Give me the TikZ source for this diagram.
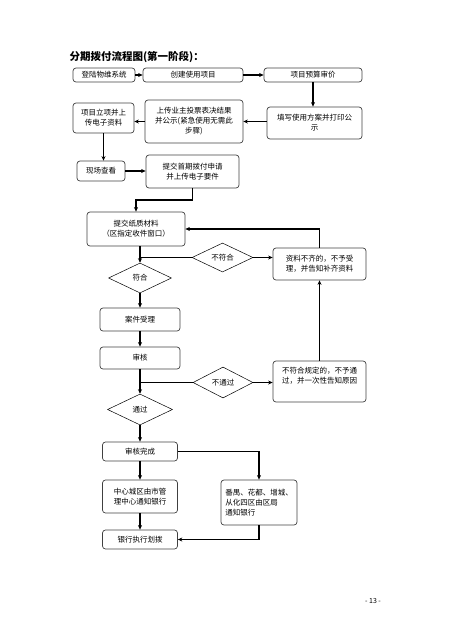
\documentclass[tikz,border=0pt]{standalone}
\usepackage{fontspec}
\newfontfamily\cjk{Noto Sans CJK SC}
\usepackage{tikz}
\usetikzlibrary{arrows.meta,positioning,calc,shapes.geometric}

\begin{document}
\begin{tikzpicture}[>={Stealth[length=4.5pt,width=4pt]},x=1pt,y=-1pt,
  font=\cjk\fontsize{7.5}{10}\selectfont,
  box/.style={draw=black!75,line width=0.7pt,rounded corners=3pt,align=center,inner sep=1pt},
  dia/.style={draw,line width=0.5pt,diamond,aspect=2,inner sep=0pt},
  link/.style={line width=1.6pt},
  flow/.style={link,->}]
\useasboundingbox (0,0) rectangle (452,640);
\node[anchor=west,font=\cjk\bfseries\fontsize{10.5}{12}\selectfont] (title) at (66,57) {分期拨付流程图(第一阶段)：};
%% top rows
\node[box,minimum width=62,minimum height=14] (login) at (104,75) {登陆物维系统};
\node[box,minimum width=100,minimum height=14] (create) at (193,75) {创建使用项目};
\node[box,minimum width=98,minimum height=14] (budget) at (313,75) {项目预算审价};
\node[box,minimum width=95,minimum height=32] (fill) at (314.5,123) {填写使用方案并打印公\\示};
\node[box,minimum width=98,minimum height=43] (upload) at (194,121.5) {上传业主投票表决结果\\并公示(紧急使用无需此\\步骤)};
\node[box,minimum width=61,minimum height=30] (setup) at (103.5,118) {项目立项并上\\传电子资料};
\node[box,minimum width=48,minimum height=20] (site) at (101,171) {现场查看};
\node[box,minimum width=93,minimum height=33] (apply) at (192.5,171.5) {提交首期拨付申请\\并上传电子要件};
%% paper check
\node[box,minimum width=98,minimum height=34] (paper) at (136,229) {提交纸质材料\\（区指定收件窗口）};
\node[box,minimum width=93,minimum height=32] (lack) at (319.5,264) {资料不齐的，不予受\\理，并告知补齐资料};
\node[dia,minimum width=61,minimum height=29] (dnot) at (222.5,257.5) {不符合};
\node[dia,minimum width=63,minimum height=30] (dok) at (140,278) {符合};
\node[box,minimum width=80,minimum height=23] (accept) at (140,319.5) {案件受理};
\node[box,minimum width=80,minimum height=22] (review) at (140,358) {审核};
\node[dia,minimum width=60,minimum height=31] (dfail) at (223,382.5) {不通过};
\node[box,minimum width=93,minimum height=41] (reject) at (319.5,381.5) {不符合规定的，不予通\\过，并一次性告知原因\\[2pt]};
\node[dia,minimum width=65,minimum height=31] (dpass) at (140,409.5) {通过};
%% bank notice
\node[box,minimum width=75,minimum height=19] (done) at (140,451.5) {审核完成};
\node[box,minimum width=75,minimum height=33] (center) at (140,496.5) {中心城区由市管\\理中心通知银行};
\node[box,align=left,minimum width=76,minimum height=45] (district) at (259,502.5) {番禺、花都、增城、\\从化四区由区局\\通知银行};
\node[box,minimum width=75,minimum height=19] (bank) at (140,539.5) {银行执行划拨};
\node[font=\cjk\fontsize{7}{9}\selectfont] (page) at (373,601) {- 13 -};
%% connectors
\draw[flow] (login) -- (create);
\draw[flow] (create) -- (budget);
\draw[flow] (budget.south) -- (budget.south |- fill.north);
\draw[flow] (fill.west |- upload.east) -- (upload.east);
\draw[flow] (upload.west) -- (upload.west -| setup.east);
\draw[flow] (setup.south) -- (setup.south |- site.north);
\draw[flow] (site.east) -- (site.east -| apply.west);
\coordinate (j1) at (192.5,200);
\draw[flow] (apply.south) -- (j1) -| (paper.north);
\draw[flow] (dok.north |- paper.south) -- (dok.north);
\coordinate (b1) at (dok.north |- dnot.west);
\draw[link] (b1) -- (dnot.west);
\draw[flow] (dnot.east) -- (dnot.east -| lack.west);
\draw[flow] (lack.north) |- (paper.east);
\draw[flow] (dok) -- (accept);
\draw[flow] (accept) -- (review);
\draw[flow] (review) -- (dpass);
\coordinate (b2) at (review.south |- dfail.west);
\draw[link] (b2) -- (dfail.west);
\draw[flow] (dfail.east) -- (dfail.east -| reject.west);
\draw[flow] (reject) -- (lack);
\draw[flow] (dpass) -- (done);
\draw[flow] (done.east) -| (district.north);
\draw[flow] (done) -- (center);
\draw[flow] (center) -- (bank);
\draw[flow] (district.south) |- (bank.east);
\end{tikzpicture}
\end{document}
